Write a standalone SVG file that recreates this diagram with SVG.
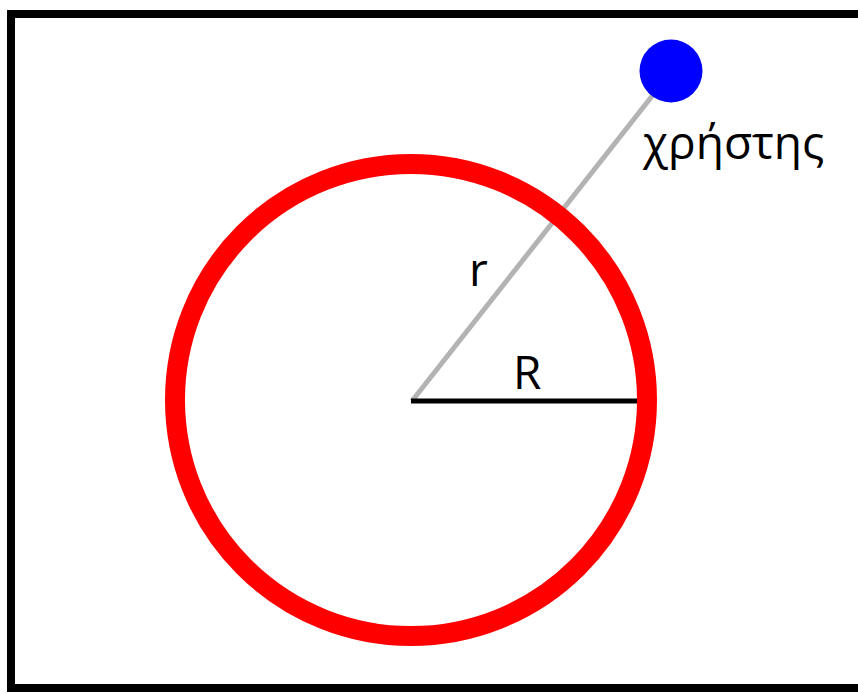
<svg xmlns="http://www.w3.org/2000/svg" width="858" height="693" viewBox="0 0 858 693">
<style>
.lbl{font-family:"Open Sans","DejaVu Sans",sans-serif;font-size:46px;fill:#000}
</style>
<rect x="0" y="0" width="858" height="693" fill="#fff"/>
<rect id="frame" x="11" y="14" width="860" height="674" fill="none" stroke="#000" stroke-width="8"/>
<g id="connectors">
<line x1="412" y1="401" x2="660" y2="86" stroke="#b3b3b3" stroke-width="5"/>
<line x1="411" y1="401" x2="637" y2="401" stroke="#000" stroke-width="5"/>
</g>
<g id="ring"><circle cx="411" cy="400" r="236" fill="none" stroke="#ff0000" stroke-width="20"/></g>
<g id="user"><circle cx="671" cy="71" r="31.5" fill="#0000ff"/>
<text class="lbl" x="643" y="159">χρήστης</text></g>
<g id="label-r"><text class="lbl" x="469" y="286">r</text></g>
<g id="label-R"><text class="lbl" x="513" y="389">R</text></g>
</svg>
